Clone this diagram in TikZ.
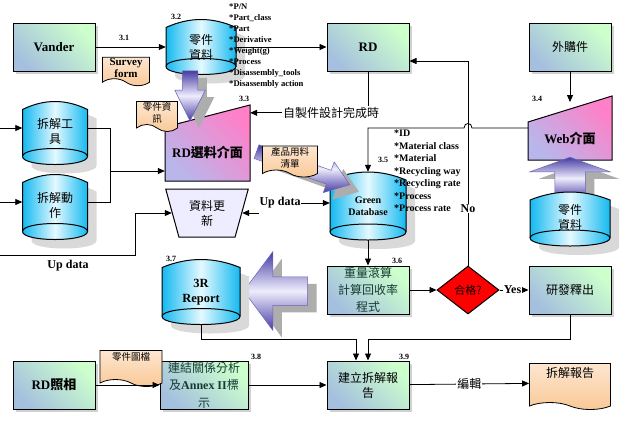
\documentclass[tikz,border=0pt]{standalone}
\usepackage{fontspec}
\setmainfont{Liberation Serif}
\newfontfamily\cjk{Noto Sans CJK TC}
\usepackage{tikz}
\usetikzlibrary{shapes.geometric, shapes.symbols, shapes.arrows, arrows.meta, positioning, calc, shadows}
\definecolor{boxgreen}{RGB}{204,255,204}
\definecolor{boxblue}{RGB}{165,192,222}
\definecolor{cylblue}{RGB}{20,185,240}
\definecolor{cyllight}{RGB}{228,249,255}
\definecolor{ifpink}{RGB}{255,128,200}
\definecolor{iflilac}{RGB}{185,182,235}
\definecolor{docpeach}{RGB}{250,200,150}
\definecolor{arrdark}{RGB}{70,60,165}
\definecolor{arrlight}{RGB}{238,236,252}
\definecolor{tealtext}{RGB}{20,60,50}

\begin{document}
\begin{tikzpicture}[x=1pt, y=-1pt,
    >={Triangle[length=7pt,width=6pt]},
    flow/.style={draw, line width=0.8pt, ->},
    procbox/.style={draw, line width=1pt, minimum width=82pt, minimum height=48pt, inner sep=0pt, align=center,
        top color=boxgreen, bottom color=boxblue, shading angle=-45,
        drop shadow={shadow xshift=3pt, shadow yshift=-3pt, fill=black!18, opacity=1}},
    storefill/.style={draw, line width=1pt, left color=cylblue, right color=cylblue, middle color=cyllight,
        drop shadow={shadow xshift=9pt, shadow yshift=-9pt, fill=black!15, opacity=1}},
    pics/storebody/.style 2 args={code={
        \path[storefill] (-#1/2,-#2/2+8) .. controls (-#1/6,-#2/2-8/3) and (#1/6,-#2/2-8/3) .. (#1/2,-#2/2+8)
            -- (#1/2,#2/2-8) .. controls (#1/2,#2/2+8/3) and (-#1/2,#2/2+8/3) .. (-#1/2,#2/2-8) -- cycle;
        \draw[line width=1pt] (-#1/2,#2/2-8) .. controls (-#1/2,#2/2-8-32/3) and (#1/2,#2/2-8-32/3) .. (#1/2,#2/2-8);
    }},
    store/.style={inner sep=1pt, align=center},
    doc/.style={tape, tape bend top=none, tape bend bottom=out and in, tape bend height=7pt, draw, line width=0.8pt,
        top color=docpeach!45, bottom color=docpeach, inner sep=1pt, align=center},
    ifshape/.style={draw, line width=1pt, top color=ifpink, bottom color=iflilac, shading angle=-45},
    ifnode/.style={inner sep=0pt},
    bigarrow/.style={single arrow, draw=arrdark!80, line width=0.5pt, inner xsep=0pt,
        top color=arrdark, bottom color=arrdark, middle color=arrlight,
        drop shadow={shadow xshift=9pt, shadow yshift=-7pt, fill=black!32, opacity=1}},
    stepno/.style={font=\bfseries\fontsize{8}{9}\selectfont, inner sep=0pt},
    zh/.style={font=\cjk\fontsize{12}{15}\selectfont},
    zhs/.style={font=\cjk\fontsize{9.5}{12}\selectfont},
    en/.style={font=\bfseries\fontsize{13}{15}\selectfont},
    lbl/.style={font=\bfseries\fontsize{12}{14}\selectfont, inner sep=0.5pt}
]
\fill[white] (0,0) rectangle (620,421);
\useasboundingbox (0,0) rectangle (620,421);

% --- top row
\node[procbox, en] (vander) at (54,47) {Vander};
\node[procbox, en] (rd) at (368,47) {RD};
\node[procbox, zh] (buy) at (570,47) {外購件};
\pic at (201,47) {storebody={70}{55}};
\node[store, zh, minimum width=70pt, minimum height=55pt] (partsA) at (201,47) {零件\\資料};
\node[stepno] (n31) at (124,38) {3.1};
\node[stepno] (n32) at (176,17) {3.2};

\draw[flow] (vander) -- (partsA.west |- vander);
\draw[flow] (partsA.east |- rd) -- (rd);
\node[font=\bfseries\fontsize{8.6}{11}\selectfont, align=left, inner sep=0pt, anchor=west] (partlist) at (229,46)
  {*P/N\\*Part\_class\\*Part\\*Derivative\\*Weight(g)\\*Process\\*Disassembly\_tools\\*Disassembly action};
\node[doc, minimum width=47pt, minimum height=28pt, font=\bfseries\fontsize{11}{12}\selectfont] (survey) at (126,68) {Survey\\form};

% --- interfaces
\path[ifshape] (165,127) -- (250,105) -- (250,181) -- (165,181) -- cycle;
\node[ifnode, minimum width=85pt, minimum height=76pt,
  label={[yshift=-9pt, inner sep=0pt]center:{\fontsize{13}{15}\selectfont\bfseries RD\cjk 選料介面}}] (rdsel) at (207.5,143) {};
\node[stepno] (n33) at (244,99) {3.3};

\path[ifshape] (528,122) -- (612,96) -- (612,160) -- (528,160) -- cycle;
\node[ifnode, minimum width=84pt, minimum height=64pt,
  label={[yshift=-10pt, inner sep=0pt]center:{\fontsize{13}{15}\selectfont\bfseries Web\cjk 介面}}] (webif) at (570,128) {};
\node[stepno] (n34) at (537,99) {3.4};
\draw[flow] (buy) -- (570,102);

\node[bigarrow, minimum height=42pt, minimum width=80pt, inner ysep=15pt, single arrow head extend=25pt,
  single arrow tip angle=140, rotate=90] (upA) at (570,181) {};
\pic at (570,219) {storebody={80}{54}};
\node[store, zh, minimum width=80pt, minimum height=54pt] (partsB) at (570,217) {零件\\資料};

% RD -> RD selection
\draw[flow] (rd.south) |- ($(rdsel.north east)+(0,8)$);
\node[zh, fill=white, inner sep=1pt] (selfmade) at (331,113) {自製件設計完成時};

\node[bigarrow, minimum height=50pt, minimum width=30pt, inner ysep=7.5pt, single arrow head extend=7.5pt,
  single arrow tip angle=53, rotate=-90] (downA) at (190,88) {};
\node[doc, minimum width=41pt, minimum height=30pt, zhs] (partinfo) at (157,113) {零件資\\訊};

% --- left side stores
\pic at (55,133) {storebody={65}{63}};
\node[store, zh, minimum width=65pt, minimum height=63pt] (tool) at (55,131) {拆解工\\具};
\pic at (55,207) {storebody={65}{65}};
\node[store, zh, minimum width=65pt, minimum height=65pt] (act) at (55,205) {拆解動\\作};
\coordinate (inTool) at (0,128);
\coordinate (inAct) at (0,202);
\coordinate (jn) at (110,171);
\draw[flow] (inTool) -- (inTool -| tool.west);
\draw[flow] (inAct) -- (inAct -| act.west);
\draw[line width=0.8pt] (tool.east |- inTool) -| (jn);
\draw[line width=0.8pt] (act.east |- inAct) -| (jn);
\draw[flow] (jn) -- (jn -| rdsel.west);

% --- update
\node[trapezium, trapezium left angle=108, trapezium right angle=108, trapezium stretches=true,
  draw, line width=1pt, fill=blue!7, minimum width=83pt, minimum height=48pt, zh, align=center, inner sep=0pt] (upd) at (207,213) {資料更\\新};
\coordinate (inUpd) at (0,255);
\draw[flow] (inUpd) -- (135,255) |- (upd.west);
\node[lbl] (updL) at (68,266) {Up data};

% --- green database
\pic at (368,206) {storebody={76}{68}};
\node[store, minimum width=76pt, minimum height=68pt, font=\bfseries\fontsize{10}{12}\selectfont] (gdb) at (368,206) {Green\\Database};
\node[stepno] (n35) at (383,160) {3.5};
\node[lbl] (updR) at (280,203) {Up data};
\draw[flow] (updR.west |- upd.east) -- (upd.east);
\draw[flow] (updR.east) -- (updR.east -| gdb.west);
\draw[flow] (webif.west) -- (472,128) .. controls (472,122) and (464,122) .. (464,128) -- (368,128) -- (gdb.north);

\node[bigarrow, minimum height=99pt, minimum width=32pt, inner ysep=7pt, single arrow head extend=9pt,
  single arrow tip angle=72, rotate=-19.5] (bomA) at (298.5,166.5) {};
\node[doc, minimum width=55pt, minimum height=31pt, zhs] (bom) at (290,158) {產品用料\\清單};

\node[font=\bfseries\fontsize{10}{12.5}\selectfont, align=left, inner sep=0pt, anchor=west] (matlist) at (394,171)
  {*ID\\*Material class\\*Material\\*Recycling way\\*Recycling rate\\*Process\\*Process rate};

% --- calculation row
\node[procbox, font=\cjk\fontsize{12}{17}\selectfont, text=tealtext] (calc) at (368,290) {重量滾算\\計算回收率\\程式};
\node[stepno] (n36) at (397,261) {3.6};
\draw[flow] (gdb.south) -- (calc.north);
\node[diamond, aspect=1.3, draw, line width=1pt, fill=red, minimum width=62pt, minimum height=48pt, inner sep=0pt,
  font=\cjk\fontsize{11}{13}\selectfont] (pass) at (468,290) {合格?};
\draw[flow] (calc) -- (pass);
\node[procbox, zh] (release) at (570,290) {研發釋出};
\draw[flow] (pass) -- node[lbl, fill=white, pos=0.45] (yes) {Yes} (release);
\coordinate (rdin) at ($(rd.east)+(0,14)$);
\draw[flow] (pass.north) -- node[lbl, fill=white, pos=0.28] (no) {No} (pass.north |- rdin) -- (rdin);

\node[bigarrow, minimum height=64pt, minimum width=78pt, inner ysep=14pt, single arrow head extend=25pt,
  single arrow tip angle=107, rotate=180] (rptA) at (281,291) {};
\pic at (201,292) {storebody={78}{65}};
\node[store, minimum width=78pt, minimum height=65pt, font=\bfseries\fontsize{12.5}{15}\selectfont] (report) at (201,292) {3R\\Report};
\node[stepno] (n37) at (171,259) {3.7};

% --- bottom row
\node[procbox, font=\bfseries\fontsize{13}{15}\selectfont] (photo) at (54,385) {RD{\cjk 照相}};
\node[procbox, minimum width=88pt, font=\cjk\fontsize{12}{17.5}\selectfont, text=tealtext] (annex) at (204,385)
  {連結關係分析\\及{\rmfamily\bfseries Annex II}標\\示};
\node[stepno] (n38) at (256,357) {3.8};
\node[procbox, zh] (build) at (368,385) {建立拆解報\\告};
\node[stepno] (n39) at (404,357) {3.9};
\node[doc, minimum width=62pt, minimum height=36pt, zhs] (drawing) at (131,365) {零件圖檔\\[4pt]};
\draw[flow] (photo) -- (annex);
\draw[flow] (annex) -- (build);
\draw[flow] (release.south) |- ($(build.north)+(0,-21)$) -- (build.north);
\draw[flow] (report.south) |- ($(build.north)+(-12,-21)$) -- ($(build.north)+(-12,0)$);
\node[doc, minimum width=81pt, minimum height=46pt, zh] (disrep) at (570,383) {拆解報告\\[6pt]};
\draw[flow] (build) -- node[zh, fill=white, inner sep=1pt] (edit) {編輯} (disrep);
\end{tikzpicture}
\end{document}
